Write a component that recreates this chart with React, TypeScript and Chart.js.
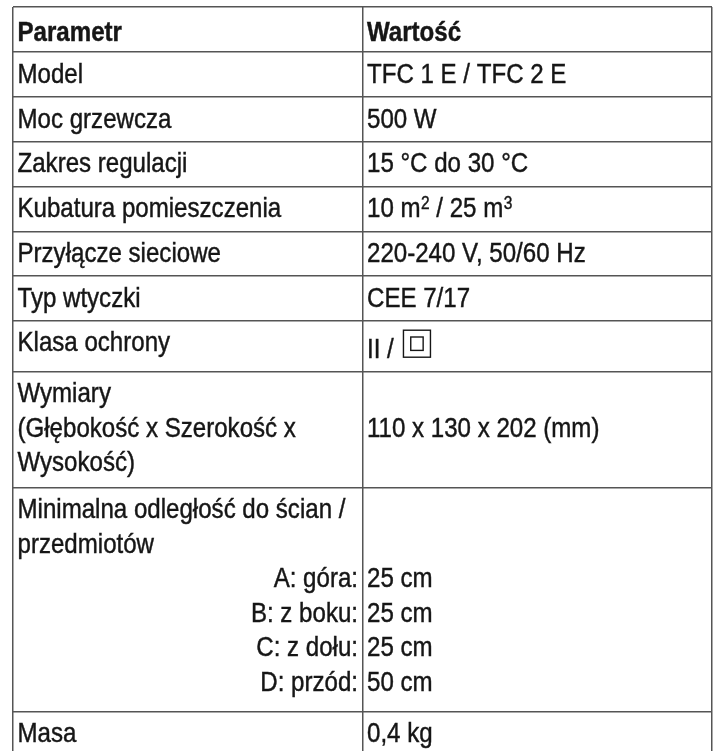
import React, { useEffect, useRef } from "react";
import { Chart, registerables } from "chart.js";

Chart.register(...registerables);

// ---------- data ----------
const headers = ["Parametr", "Wartość"];

const parameterLines: string[][] = [
  ["Model"],
  ["Moc grzewcza"],
  ["Zakres regulacji"],
  ["Kubatura pomieszczenia"],
  ["Przyłącze sieciowe"],
  ["Typ wtyczki"],
  ["Klasa ochrony"],
  ["Wymiary", "(Głębokość x Szerokość x", "Wysokość)"],
  ["Minimalna odległość do ścian /", "przedmiotów"],
  ["Masa"],
];

// "^n" marks a superscript digit, "[II]" marks the class II symbol
const valueTexts: string[] = [
  "TFC 1 E / TFC 2 E",
  "500 W",
  "15 °C do 30 °C",
  "10 m^2 / 25 m^3",
  "220-240 V, 50/60 Hz",
  "CEE 7/17",
  "II / [II]",
  "110 x 130 x 202 (mm)",
  "",
  "0,4 kg",
];

const clearanceLabels = ["A: góra:", "B: z boku:", "C: z dołu:", "D: przód:"];
const clearanceValues = ["25 cm", "25 cm", "25 cm", "50 cm"];

// ---------- layout / style ----------
const W = 717;
const H = 751;
const FONT = '"Liberation Sans", Arial, sans-serif';
const FS = 28;
const SX = 0.86; // horizontal condensing of the face
const TEXT_COLOR = "#161616";
const LINE_COLOR = "#555555";
const ROW_HEIGHTS = [45, 45, 44.7, 44.6, 45, 44.7, 44.7, 51, 116, 224, 45];
const COL_SPLIT = 0.5;
const PAD = 4.5;
const FIRST_BASE = 30.5;
const HEADER_BASE = 33.5;
const LINE = 34.5;
const BOX = 27;

const boundaries: number[] = ROW_HEIGHTS.reduce(
  (acc, h) => {
    acc.push(acc[acc.length - 1] + h);
    return acc;
  },
  [0] as number[]
);

function textW(ctx: CanvasRenderingContext2D, t: string) {
  return ctx.measureText(t).width * SX;
}

function fillCond(ctx: CanvasRenderingContext2D, t: string, x: number, y: number, align: CanvasTextAlign = "left") {
  ctx.save();
  ctx.translate(x, y);
  ctx.scale(SX, 1);
  ctx.textAlign = align;
  ctx.fillText(t, 0, 0);
  ctx.lineWidth = 0.45;
  ctx.strokeStyle = TEXT_COLOR;
  ctx.strokeText(t, 0, 0);
  ctx.restore();
}

function drawSegments(ctx: CanvasRenderingContext2D, text: string, x: number, y: number) {
  const parts = text.split(/(\^\d|\[II\])/).filter((p) => p.length);
  let cx = x;
  for (const p of parts) {
    if (p.startsWith("^")) {
      ctx.font = `${Math.round(FS * 0.64)}px ${FONT}`;
      fillCond(ctx, p.slice(1), cx + 0.5, y - 7.5);
      cx += textW(ctx, p.slice(1)) + 0.5;
      ctx.font = `${FS}px ${FONT}`;
    } else if (p === "[II]") {
      const top = y - BOX - 0.7;
      const left = cx + 3;
      ctx.save();
      ctx.strokeStyle = TEXT_COLOR;
      ctx.lineWidth = 1.4;
      ctx.strokeRect(left, top, BOX, BOX);
      ctx.strokeRect(left + 7.3, top + 6.8, BOX - 14.6, BOX - 13.6);
      ctx.restore();
      cx = left + BOX;
    } else {
      fillCond(ctx, p, cx, y);
      cx += textW(ctx, p);
    }
  }
}

const tableTextPlugin = {
  id: "tableText",
  afterDraw(chart: any) {
    const ctx: CanvasRenderingContext2D = chart.ctx;
    const xs = chart.scales.x;
    const ys = chart.scales.y;
    const colL = xs.getPixelForValue(0);
    const colM = xs.getPixelForValue(COL_SPLIT);
    ctx.save();
    ctx.fillStyle = TEXT_COLOR;
    ctx.textBaseline = "alphabetic";

    // header
    ctx.font = `bold ${FS}px ${FONT}`;
    const hb = ys.getPixelForValue(boundaries[0]) + HEADER_BASE;
    fillCond(ctx, headers[0], colL + PAD, hb);
    fillCond(ctx, headers[1], colM + PAD, hb);

    ctx.font = `${FS}px ${FONT}`;
    parameterLines.forEach((lines, i) => {
      const top = ys.getPixelForValue(boundaries[i + 1]);
      const bottom = ys.getPixelForValue(boundaries[i + 2]);
      lines.forEach((ln, j) => {
        fillCond(ctx, ln, colL + PAD, top + FIRST_BASE + j * LINE);
      });
      const val = valueTexts[i];
      if (val) {
        let base = top + FIRST_BASE + ((lines.length - 1) / 2) * LINE;
        if (val.includes("[II]")) {
          const center = (top + bottom) / 2;
          base = center - BOX / 2 - 2.5 + BOX + 0.7;
        }
        drawSegments(ctx, val, colM + PAD, base);
      }
      if (i === 8) {
        clearanceLabels.forEach((lab, k) => {
          const b = top + FIRST_BASE + (lines.length + k) * LINE;
          fillCond(ctx, lab, colM - PAD, b, "right");
          fillCond(ctx, clearanceValues[k], colM + PAD, b, "left");
        });
      }
    });
    ctx.restore();
  },
};

export default function App() {
  const ref = useRef<HTMLCanvasElement | null>(null);

  useEffect(() => {
    if (!ref.current) return;
    const yMax = H - 7;
    const chart = new Chart(ref.current, {
      type: "scatter",
      data: { datasets: [{ data: [] }] },
      options: {
        responsive: false,
        maintainAspectRatio: false,
        animation: false,
        devicePixelRatio: 1,
        layout: { padding: { left: 13, right: W - 712, top: 7, bottom: 0 } },
        plugins: { legend: { display: false }, tooltip: { enabled: false } },
        scales: {
          x: {
            type: "linear",
            min: 0,
            max: 1,
            ticks: { display: false, autoSkip: false },
            grid: { color: LINE_COLOR, lineWidth: 1.5, drawTicks: false },
            border: { display: false },
            afterBuildTicks: (scale: any) => {
              scale.ticks = [0, COL_SPLIT, 1].map((v) => ({ value: v }));
            },
          },
          y: {
            type: "linear",
            reverse: true,
            min: 0,
            max: yMax,
            ticks: { display: false, autoSkip: false },
            grid: { color: LINE_COLOR, lineWidth: 1.5, drawTicks: false },
            border: { display: false },
            afterBuildTicks: (scale: any) => {
              scale.ticks = boundaries.filter((v) => v <= yMax).map((v) => ({ value: v }));
            },
          },
        },
      },
      plugins: [tableTextPlugin],
    } as any);
    return () => chart.destroy();
  }, []);

  return (
    <div style={{ position: "fixed", left: 0, top: 0, width: W, height: H, background: "#fff" }}>
      <canvas ref={ref} width={W} height={H} style={{ display: "block", width: W, height: H }} />
    </div>
  );
}
